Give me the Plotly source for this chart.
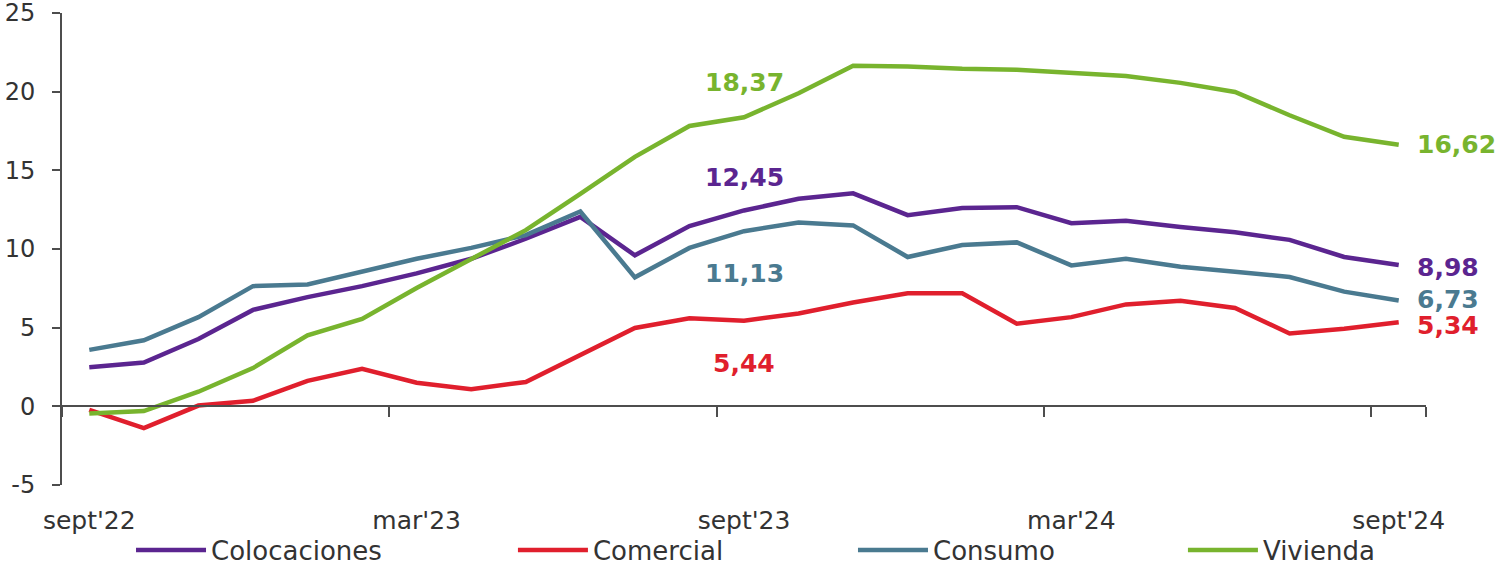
import plotly.graph_objects as go

# monthly series, sept'22 .. sept'24
months = ["sept'22", "oct'22", "nov'22", "dic'22", "ene'23", "feb'23", "mar'23",
          "abr'23", "may'23", "jun'23", "jul'23", "ago'23", "sept'23", "oct'23",
          "nov'23", "dic'23", "ene'24", "feb'24", "mar'24", "abr'24", "may'24",
          "jun'24", "jul'24", "ago'24", "sept'24"]
tick_months = ["sept'22", "mar'23", "sept'23", "mar'24", "sept'24"]
y_ticks = [-5, 0, 5, 10, 15, 20, 25]

colocaciones = [2.48, 2.78, 4.28, 6.13, 6.94, 7.64, 8.45, 9.38, 10.65, 12.04, 9.60, 11.46,
                12.45, 13.19, 13.54, 12.15, 12.60, 12.66, 11.64, 11.80, 11.40, 11.06, 10.58, 9.49, 8.98]
comercial = [-0.23, -1.39, 0.05, 0.35, 1.62, 2.38, 1.50, 1.09, 1.55, 3.24, 4.98, 5.60,
             5.44, 5.90, 6.60, 7.18, 7.18, 5.25, 5.67, 6.48, 6.71, 6.25, 4.63, 4.93, 5.34]
consumo = [3.59, 4.20, 5.67, 7.64, 7.75, 8.56, 9.38, 10.07, 10.88, 12.38, 8.20, 10.07,
           11.13, 11.69, 11.50, 9.49, 10.25, 10.42, 8.96, 9.38, 8.87, 8.56, 8.22, 7.29, 6.73]
vivienda = [-0.46, -0.30, 0.93, 2.43, 4.51, 5.56, 7.52, 9.38, 11.20, 13.50, 15.86, 17.82,
            18.37, 19.90, 21.64, 21.60, 21.46, 21.40, 21.18, 21.00, 20.56, 19.98, 18.50, 17.13, 16.62]

series = [
    ("Colocaciones", colocaciones, "#5b2590"),
    ("Comercial", comercial, "#e01f2d"),
    ("Consumo", consumo, "#4a7a90"),
    ("Vivienda", vivienda, "#78b42e"),
]

# label shifts (px) for the sept'23 values and the last value
mid_shift = {"Colocaciones": 33, "Comercial": -43, "Consumo": -42, "Vivienda": 35}
end_shift = {"Colocaciones": -2, "Comercial": -3, "Consumo": 1, "Vivienda": 0}
# one legend per series, spread along the bottom like the original
legend_x = [0.0506, 0.3306, 0.5799, 0.8218]

FONT = "DejaVu Sans"
AXIS = "#4d4d4d"
TXT = "#333333"

fig = go.Figure()
for k, (name, vals, col) in enumerate(series):
    fig.add_trace(go.Scatter(x=months, y=vals, name=name, mode="lines",
                             line=dict(color=col, width=4.5),
                             legend="legend" if k == 0 else f"legend{k + 1}"))

# invisible trace so the label axis gets drawn
fig.add_trace(go.Scatter(x=months, y=[None] * len(months), xaxis="x2",
                         showlegend=False, hoverinfo="skip"))

def fmt(v):
    return f"{v:.2f}".replace(".", ",")

for name, vals, col in series:
    i = months.index("sept'23")
    fig.add_annotation(x=months[i], y=vals[i], text="<b>" + fmt(vals[i]) + "</b>",
                       showarrow=False, yshift=mid_shift[name],
                       font=dict(family=FONT, size=25, color=col))
    fig.add_annotation(x=months[-1], y=vals[-1], text="<b>" + fmt(vals[-1]) + "</b>",
                       showarrow=False, xanchor="left", xshift=16, yshift=end_shift[name],
                       font=dict(family=FONT, size=25, color=col))

legends = {}
for k, lx in enumerate(legend_x):
    key = "legend" if k == 0 else f"legend{k + 1}"
    legends[key] = dict(orientation="h", x=lx, xanchor="left", y=-0.138, yanchor="middle",
                        font=dict(size=26, color=TXT), itemwidth=70,
                        bgcolor="rgba(0,0,0,0)")

fig.update_layout(
    width=1500, height=565,
    margin=dict(l=62, r=74, t=13, b=80, autoexpand=False),
    paper_bgcolor="white", plot_bgcolor="white",
    font=dict(family=FONT, color=TXT),
    showlegend=True,
    xaxis=dict(type="category", range=[-0.5, 24.5], anchor="free", position=5 / 30,
               showline=True, linecolor=AXIS, linewidth=2, ticks="outside", ticklen=10,
               tickwidth=2, tickcolor=AXIS, tickson="boundaries", tickvals=tick_months,
               showticklabels=False, showgrid=False, zeroline=False, automargin=False),
    xaxis2=dict(type="category", range=[-0.5, 24.5], overlaying="x", anchor="y", side="bottom",
                showline=False, ticks="", tickvals=tick_months, ticktext=tick_months,
                tickfont=dict(size=25, color=TXT), ticklabelstandoff=18,
                ticklabeloverflow="allow",
                showgrid=False, zeroline=False, automargin=False),
    yaxis=dict(range=[-5, 25], tickvals=y_ticks, ticktext=[str(v) for v in y_ticks],
               showline=True, linecolor=AXIS, linewidth=2,
               ticks="outside", ticklen=8, tickwidth=2, tickcolor=AXIS,
               tickfont=dict(size=24, color=TXT), ticklabelstandoff=12,
               ticklabeloverflow="allow",
               showgrid=False, zeroline=False, automargin=False),
    **legends,
)

# drop the browser's default body margin so the figure sits at the page corner
fig.write_html("out.html", config={"displayModeBar": False},
               post_script="document.body.style.margin='0';")
